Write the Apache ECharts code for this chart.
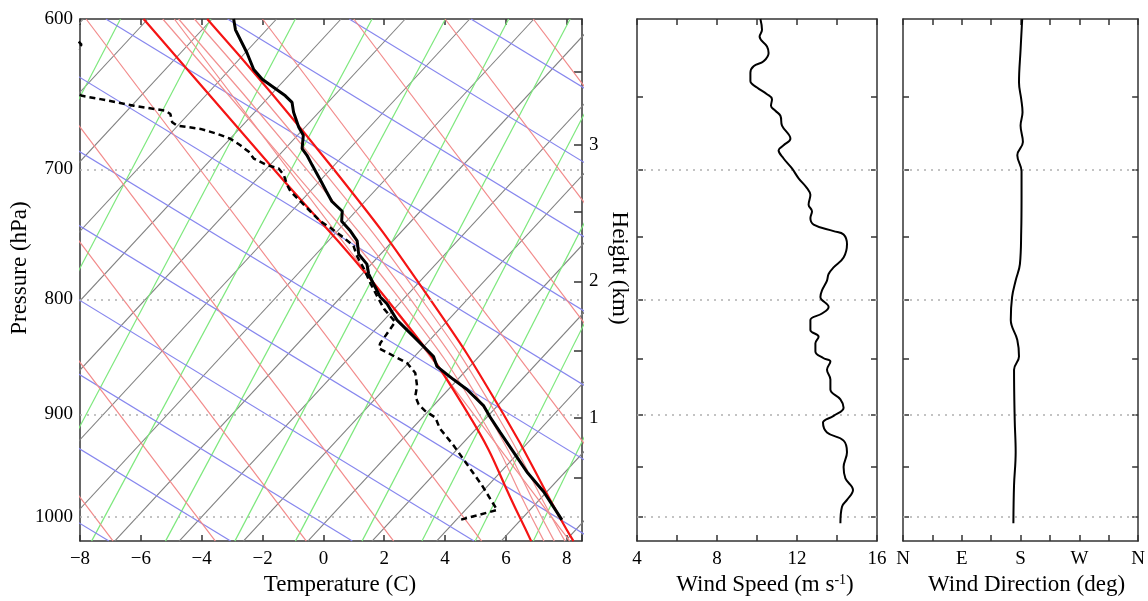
<!DOCTYPE html>
<html><head><meta charset="utf-8">
<script src="https://cdn.jsdelivr.net/npm/echarts@6/dist/echarts.min.js"></script>
<style>html,body{margin:0;padding:0;background:#fff}#c{width:1148px;height:601px}</style>
</head><body><div id="c"></div><script>
// ---------- data ----------
// temperature profile (skew-T axis units vs hPa)
const tempP = [600, 606.7, 621.3, 631.9, 638.3, 643.7, 649.2, 653.6, 660.3, 670.4, 676, 685.3, 690, 697, 707.7, 716.1, 723.5, 730.8, 738.3, 745.8, 753.4, 763.7, 771.5, 779.4, 787.4, 798, 803.5, 817.1, 831.1, 848.2, 856.8, 868.5, 877.4, 892.3, 903, 916.9, 935.6, 954.8, 974.4, 1002.9];
const tempX = [-2.95, -2.89, -2.51, -2.29, -2.01, -1.63, -1.25, -1.03, -0.98, -0.81, -0.66, -0.70, -0.54, -0.37, -0.10, 0.10, 0.28, 0.62, 0.60, 0.89, 1.11, 1.16, 1.43, 1.49, 1.65, 1.87, 2.09, 2.42, 2.97, 3.62, 3.73, 4.28, 4.72, 5.27, 5.49, 5.81, 6.25, 6.69, 7.24, 7.84];
// dew point profile
const dewP = [600, 612, 616, 620, 635, 649.2, 651.4, 655.8, 659.2, 661.4, 667, 669.3, 671.6, 675, 678.4, 683, 687.6, 692.3, 697, 699.4, 704.2, 711.4, 716.1, 723.5, 730.8, 738.3, 743.3, 750.9, 757.2, 765, 775, 787, 798, 808, 818.6, 836.7, 841, 853.9, 862.6, 874.4, 883.4, 890.9, 897, 903, 910.6, 913.6, 929.2, 967.9, 992.8, 1002.9];
const dewX = [-9.5, -8.15, -7.95, -8.15, -9.5, -7.93, -7.33, -6.23, -5.19, -5.03, -4.97, -4.81, -4.04, -3.49, -3.06, -2.73, -2.45, -2.29, -1.85, -1.47, -1.30, -1.19, -1.08, -0.75, -0.43, -0.10, 0.23, 0.67, 0.99, 1.10, 1.33, 1.55, 1.78, 2.0, 2.36, 1.87, 1.82, 2.75, 3.02, 3.08, 3.02, 3.13, 3.35, 3.68, 3.79, 3.84, 4.28, 5.21, 5.71, 4.50];
// parcel (thick red) curves and nearby thin moist adiabats
const parcelP = [600, 700, 800, 900, 1000, 1025];
const parcelA = [-5.91, -1.63, 2.09, 4.77, 6.45, 6.83];
const parcelB = [-3.82, 0.34, 3.51, 5.92, 7.76, 8.22];
const moistNear1 = [-5.28, -1.04, 2.52, 5.12, 6.84, 7.25];
const moistNear2 = [-4.76, -0.55, 2.87, 5.40, 7.17, 7.59];
const moistNear3 = [-4.24, -0.05, 3.23, 5.69, 7.50, 7.94];
// background line families: x at 1025 hPa (bottom) and at 600 hPa (top)
const isoB = [-23.79, -21.67, -19.56, -17.44, -15.32, -13.21, -11.09, -8.98, -6.86, -4.74, -2.63, -0.51, 1.60, 3.72, 5.84, 7.95];
const isoT = [-7.89, -5.77, -3.66, -1.54, 0.58, 2.69, 4.81, 6.92, 9.04, 11.16, 13.27, 15.39, 17.5, 19.62, 21.74, 23.85];
const mixB = [-15.6, -12.7, -10.0, -7.62, -5.19, -2.91, -0.92, 1.27, 3.24, 4.99, 6.90];
const mixT = [-6.67, -3.71, -0.92, 1.60, 4.01, 6.09, 8.11, 10.2, 12.0, 13.6, 15.3];
const dryB = [-11.05, -7.05, -3.05, 0.95, 4.95, 8.95, 12.95, 16.95, 20.95, 24.95, 28.95, 32.95, 36.95];
const dryT = [-39.15, -35.15, -31.15, -27.15, -23.15, -19.15, -15.15, -11.15, -7.15, -3.15, 0.85, 4.85, 8.85];
const moistB = [-6.91, -3.55, -0.56, 2.31, 5.2, 8.1, 11.0, 14.0, 17.0, 19.9, 22.8];
const moistT = [-19.91, -16.55, -13.56, -10.69, -7.8, -4.9, -2.0, 1.0, 4.0, 6.9, 9.8];
// wind speed (m/s) vs hPa
const wsP = [600, 606.7, 610.9, 617.1, 621.3, 626.6, 629.8, 634, 639.4, 643.7, 648.1, 651.4, 655.8, 659.2, 662.6, 669.3, 678.4, 683, 686.5, 692.3, 699.4, 706.5, 713.7, 718.6, 725.9, 730.8, 735.9, 740.8, 745.8, 748.4, 756, 766.3, 774.1, 779.4, 784.6, 792.6, 798, 806.1, 811.6, 817.1, 825.4, 831.1, 836.7, 843.9, 849.7, 852.6, 859.8, 868.5, 877.4, 886.3, 893.9, 901.5, 907.7, 916.9, 924.6, 935.6, 950.1, 961.2, 972.7, 982.6, 989.4, 1006.3];
const wsV = [10.17, 10.25, 10.13, 10.5, 10.58, 10.33, 9.83, 9.67, 9.67, 10.0, 10.5, 10.75, 10.7, 10.92, 11.17, 11.25, 11.67, 11.33, 11.08, 11.33, 11.75, 12.08, 12.5, 12.67, 12.58, 12.75, 12.67, 12.83, 13.83, 14.33, 14.5, 14.33, 13.83, 13.58, 13.5, 13.25, 13.17, 13.58, 13.25, 12.67, 12.67, 13.08, 12.92, 12.92, 13.33, 13.67, 13.5, 13.67, 13.67, 14.17, 14.33, 13.83, 13.3, 13.5, 14.33, 14.5, 14.33, 14.42, 14.8, 14.5, 14.25, 14.17];
// wind direction (deg) vs hPa
const wdP = [600, 619.2, 640.4, 651.4, 660.3, 669.3, 680.7, 690, 701.4, 721, 745.8, 771.5, 784.6, 798, 817.1, 833.9, 848.2, 859.8, 904.5, 935.6, 967.9, 1006.3];
const wdV = [182.5, 180, 177.6, 181, 183, 180, 183.6, 175, 181.5, 181.5, 181, 179, 172.5, 167, 165, 175, 177.6, 170, 171, 172.5, 170, 169];
// ticks
const presLabels = [600, 700, 800, 900, 1000];
const presGrid = [700, 800, 900, 1000];
const windPresTicks = [650, 700, 750, 800, 850, 900, 950, 1000];
const heightTickP = [633.2, 682.5, 731.5, 785.2, 843.2, 903.0, 960.7];
const heightLabelP = [682.5, 785.2, 903.0];
const heightLabels = ['3', '2', '1'];
const dirLabels = {0: 'N', 90: 'E', 180: 'S', 270: 'W', 360: 'N'};
const P_TOP = 600, P_BOT = 1025;

// ---------- chart ----------
const FONT = 'Liberation Serif';
const AX = '#333';
const zip = (xs, ps) => xs.map((x, i) => [x, ps[i]]);
const series = [];
function family(B, T, color, width) {
  B.forEach((b, i) => series.push({type: 'line', xAxisIndex: 0, yAxisIndex: 0, data: [[b, P_BOT], [T[i], P_TOP]],
    symbol: 'none', silent: true, animation: false, z: 1, lineStyle: {color: color, width: width}}));
}
family(isoB, isoT, 'rgb(128,128,128)', 1.1);
family(mixB, mixT, 'rgb(125,232,125)', 1.2);
family(dryB, dryT, 'rgb(135,135,238)', 1.2);
family(moistB, moistT, 'rgb(242,138,138)', 1.2);
[moistNear1, moistNear2, moistNear3].forEach(arr => series.push({type: 'line', xAxisIndex: 0, yAxisIndex: 0,
  data: zip(arr, parcelP), smooth: 0.5, symbol: 'none', silent: true, z: 1, lineStyle: {color: 'rgb(242,145,145)', width: 1.2}}));
[parcelA, parcelB].forEach(arr => series.push({type: 'line', xAxisIndex: 0, yAxisIndex: 0,
  data: zip(arr, parcelP), smooth: 0.5, symbol: 'none', silent: true, z: 3, lineStyle: {color: 'rgb(245,20,20)', width: 2.2}}));
const dotted = {symbol: 'none', silent: true, label: {show: false}, lineStyle: {type: [2, 5], color: '#b0b0b0', width: 1.5},
  data: presGrid.map(p => ({yAxis: p}))};
series.push({type: 'line', xAxisIndex: 0, yAxisIndex: 0, data: zip(tempX, tempP), symbol: 'none', z: 5,
  lineStyle: {color: '#000', width: 3}, markLine: Object.assign({}, dotted)});
series.push({type: 'line', xAxisIndex: 0, yAxisIndex: 0, data: zip(dewX, dewP), symbol: 'none', z: 5,
  lineStyle: {color: '#000', width: 2.5, type: [6, 4]}});
series.push({type: 'line', xAxisIndex: 2, yAxisIndex: 2, data: zip(wsV, wsP), symbol: 'none', smooth: 0.4, z: 5,
  lineStyle: {color: '#000', width: 2}, markLine: Object.assign({}, dotted)});
series.push({type: 'line', xAxisIndex: 4, yAxisIndex: 4, data: zip(wdV, wdP), symbol: 'none', smooth: 0.4, z: 5,
  lineStyle: {color: '#000', width: 2}, markLine: Object.assign({}, dotted)});

const lbl = {fontFamily: FONT, fontSize: 19, color: '#000'};
const nameStyle = {fontFamily: FONT, fontSize: 23, color: '#000'};
const line = {show: true, onZero: false, lineStyle: {color: AX, width: 1.5}};
const tick = {show: true, inside: true, length: 6, lineStyle: {color: AX, width: 1.5}};
function xAx(grid, pos, min, max, interval, fmt, name, shift, extra) {
  return Object.assign({gridIndex: grid, type: 'value', position: pos, min: min, max: max, interval: interval,
    axisLine: line, axisTick: tick, splitLine: {show: false},
    axisLabel: fmt ? Object.assign({formatter: fmt, margin: 8}, lbl) : {show: false},
    name: name || '', nameLocation: 'middle', nameGap: 31,
    nameTextStyle: Object.assign({padding: [0, 0, 0, shift || 0]}, nameStyle)}, extra || {});
}
function yAx(grid, pos, extra) {
  return Object.assign({gridIndex: grid, type: 'log', logBase: 10, min: P_TOP, max: P_BOT, inverse: true, position: pos,
    axisLine: line, axisTick: {show: false}, axisLabel: {show: false}, splitLine: {show: false}}, extra);
}
const even = v => Math.abs(v % 2) < 1e-9;
const tempFmt = v => even(v) ? (v < 0 ? '\u2212' + Math.abs(v) : String(v)) : '';
const option = {
  animation: false,
  backgroundColor: '#fff',
  grid: [
    {left: 80, top: 19, width: 502, height: 528},
    {left: 637, top: 19, width: 240, height: 528},
    {left: 903, top: 19, width: 240, height: 528}
  ],
  xAxis: [
    xAx(0, 'bottom', -8, 8.5, 2, tempFmt, 'Temperature (C)', 18),
    xAx(0, 'top', -8, 8.5, 2, null),
    xAx(1, 'bottom', 4, 16, 2, v => (v % 4 === 0 ? String(v) : ''), '{a|Wind Speed (m s}{b|-1}{a|)}', 16,
      {nameTextStyle: {padding: [0, 0, 0, 16], rich: {a: nameStyle, b: {fontFamily: FONT, fontSize: 14, color: '#000', verticalAlign: 'top'}}}}),
    xAx(1, 'top', 4, 16, 2, null),
    xAx(2, 'bottom', 0, 360, 45, v => dirLabels[v] || '', 'Wind Direction (deg)', 12),
    xAx(2, 'top', 0, 360, 45, null)
  ],
  yAxis: [
    yAx(0, 'left', {axisLabel: Object.assign({customValues: presLabels, margin: 7, formatter: v => String(Math.round(v))}, lbl),
      name: 'Pressure (hPa)', nameLocation: 'middle', nameGap: 47, nameTextStyle: Object.assign({padding: [0, 0, 0, 24]}, nameStyle)}),
    yAx(0, 'right', {axisTick: Object.assign({customValues: heightTickP}, tick, {length: 8}),
      axisLabel: Object.assign({customValues: heightLabelP, margin: 7,
        formatter: v => { const i = heightLabelP.findIndex(q => Math.abs(q - v) < 0.5); return i >= 0 ? heightLabels[i] : ''; }}, lbl),
      name: 'Height (km)', nameLocation: 'middle', nameRotate: -90, nameGap: 26,
      nameTextStyle: Object.assign({padding: [0, 24, 0, 0]}, nameStyle)}),
    yAx(1, 'left', {axisTick: Object.assign({customValues: windPresTicks}, tick)}),
    yAx(1, 'right', {axisTick: Object.assign({customValues: windPresTicks}, tick)}),
    yAx(2, 'left', {axisTick: Object.assign({customValues: windPresTicks}, tick)}),
    yAx(2, 'right', {axisTick: Object.assign({customValues: windPresTicks}, tick)})
  ],
  series: series
};
const chart = echarts.init(document.getElementById('c'), null, {renderer: 'canvas'});
chart.setOption(option);
</script></body></html>
